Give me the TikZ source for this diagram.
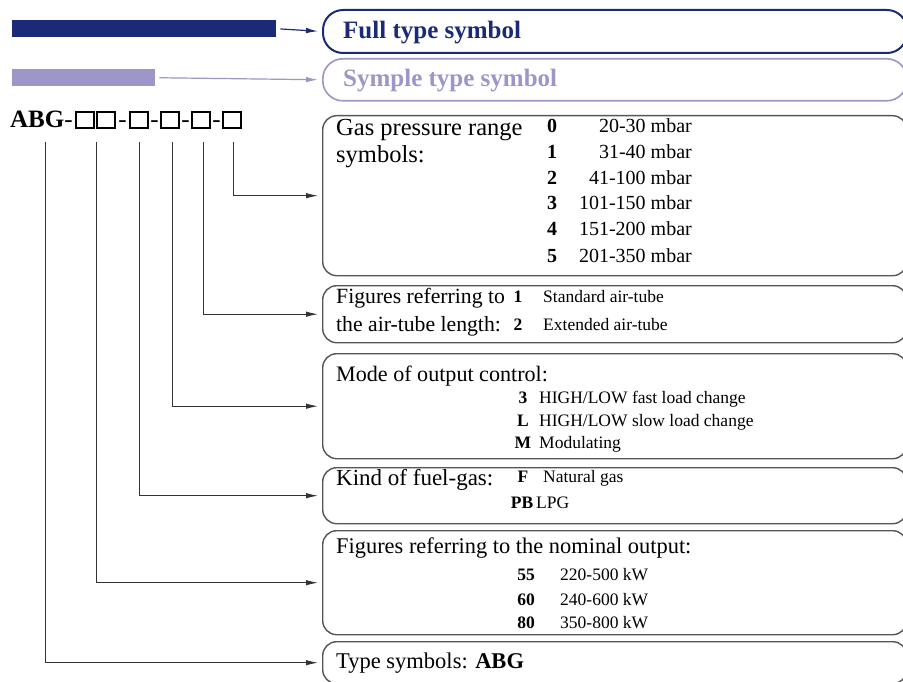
\documentclass[tikz,border=0pt]{standalone}
\usepackage{fontspec}
\setmainfont{Liberation Serif}
\usetikzlibrary{arrows.meta}
\definecolor{navy}{HTML}{1B2A78}
\definecolor{lav}{HTML}{9D96C8}
\definecolor{edge}{HTML}{555555}
\definecolor{wire}{HTML}{333333}
\begin{document}
\begin{tikzpicture}[x=1pt,y=-1pt,
  box/.style={draw=edge, line width=1.4pt, rounded corners=14pt, anchor=north west, minimum width=584pt, inner sep=0pt},
  conn/.style={draw=wire, line width=1pt, -{Latex[length=12pt,width=5.5pt]}, shorten >=4pt},
  big/.style={font=\fontsize{#1}{26}\selectfont, anchor=base west, inner sep=0pt},
  big/.default=22.5,
  val/.style={font=\fontsize{17.5}{20}\selectfont, anchor=base west, inner sep=0pt},
  key/.style={font=\fontsize{17.5}{20}\selectfont\bfseries, anchor=base, inner sep=0pt},
  gv/.style={font=\fontsize{20}{22}\selectfont, anchor=base east, inner sep=0pt},
  gk/.style={font=\fontsize{20}{22}\selectfont\bfseries, anchor=base, inner sep=0pt},
  sq/.style={draw=black, line width=1.3pt},
  dsh/.style={font=\fontsize{25}{28}\selectfont, anchor=base, inner sep=0pt}]
\useasboundingbox (0,0) rectangle (903,682);
\fill[white] (0,0) rectangle (903,682);

% legend
\node[fill=navy, minimum width=264pt, minimum height=17pt, inner sep=0pt, anchor=north west] (fullbar) at (12,20) {};
\node[draw=navy, line width=2pt, rounded corners=20pt, anchor=north west, minimum width=584pt, minimum height=43pt, inner sep=0pt] (fullbox) at (322,9) {};
\node[font=\fontsize{25}{28}\selectfont\bfseries, text=navy, anchor=base west, inner sep=0pt] (fulltxt) at (343,39) {Full type symbol};
\draw[draw=navy, line width=1.2pt, -{Latex[length=12pt,width=5.5pt]}, shorten <=4pt, shorten >=4pt] (fullbar.east) -- (fullbox.west);

\node[fill=lav, minimum width=143pt, minimum height=17pt, inner sep=0pt, anchor=north west] (symbar) at (12,69) {};
\node[draw=lav, line width=1.6pt, rounded corners=20pt, anchor=north west, minimum width=584pt, minimum height=42pt, inner sep=0pt] (symbox) at (322,58) {};
\node[font=\fontsize{25}{28}\selectfont\bfseries, text=lav, anchor=base west, inner sep=0pt] (symtxt) at (343,87) {Symple type symbol};
\draw[draw=lav, line width=1.2pt, -{Latex[length=12pt,width=5.5pt]}, shorten <=4pt, shorten >=4pt] (symbar.east) -- (symbox.west);

% code line
\node[font=\fontsize{25}{28}\selectfont, anchor=base west, inner sep=0pt] (abg) at (10,128) {\textbf{ABG}-};
\draw[sq] (76,112) rectangle (94,128);
\draw[sq] (97,112) rectangle (115,128);
\draw[sq] (130,112) rectangle (148,128);
\draw[sq] (161,112) rectangle (179,128);
\draw[sq] (192,112) rectangle (210,128);
\draw[sq] (223,112) rectangle (241,128);
\node[dsh] (d1) at (122.5,128) {-};
\node[dsh] (d2) at (154.5,128) {-};
\node[dsh] (d3) at (185.5,128) {-};
\node[dsh] (d4) at (216.5,128) {-};

\coordinate (v1) at (45,142);
\coordinate (v2) at (96,142);
\coordinate (v3) at (139,142);
\coordinate (v4) at (172,142);
\coordinate (v5) at (203,142);
\coordinate (v6) at (233,142);

% boxes
\node[box, minimum height=160pt] (gas) at (322,115) {};
\node[box, minimum height=57pt] (air) at (322,285) {};
\node[box, minimum height=105pt] (mode) at (322,353) {};
\node[box, minimum height=56pt] (fuel) at (322,467) {};
\node[box, minimum height=104pt] (nom) at (322,530) {};
\node[box, minimum height=42pt] (type) at (322,641) {};

% connectors
\draw[conn] (v6) |- (gas.west);
\draw[conn] (v5) |- (air.west);
\draw[conn] (v4) |- (mode.west);
\draw[conn] (v3) |- (fuel.west);
\draw[conn] (v2) |- (nom.west);
\draw[conn] (v1) |- (type.west);

% gas box
\node[big=24.5] (g1) at (336,136) {Gas pressure range};
\node[big=24.5] (g2) at (336,163) {symbols:};
\foreach \k/\v/\y [count=\i] in {0/20-30 mbar/133,1/31-40 mbar/159,2/41-100 mbar/185,3/101-150 mbar/210,4/151-200 mbar/236,5/201-350 mbar/262}{
  \node[gk] (gk\i) at (552,\y) {\k};
  \node[gv] (gv\i) at (692,\y) {\v};
}

% air box
\node[big=21.7] (a1) at (336,303) {Figures referring to};
\node[big=21.7] (a2) at (336,331) {the air-tube length:};
\node[key] (ak1) at (518,302) {1};
\node[val] (av1) at (543,302) {Standard air-tube};
\node[key] (ak2) at (518,330) {2};
\node[val] (av2) at (543,330) {Extended air-tube};

% mode box
\node[big=22.1] (m1) at (336,381) {Mode of output control:};
\node[key] (mk1) at (523,403) {3};
\node[val] (mv1) at (539,403) {HIGH/LOW fast load change};
\node[key] (mk2) at (523,426) {L};
\node[val] (mv2) at (539,426) {HIGH/LOW slow load change};
\node[key] (mk3) at (523,448) {M};
\node[val] (mv3) at (539,448) {Modulating};

% fuel box
\node[big=23] (f1) at (336,485) {Kind of fuel-gas:};
\node[key] (fk1) at (523,482) {F};
\node[val] (fv1) at (543,482) {Natural gas};
\node[key] (fk2) at (522,508) {PB};
\node[val] (fv2) at (536,508) {LPG};

% nominal box
\node[big=22.4] (n1) at (336,553) {Figures referring to the nominal output:};
\node[key] (nk1) at (526,580) {55};
\node[val] (nv1) at (560,580) {220-500 kW};
\node[key] (nk2) at (526,605) {60};
\node[val] (nv2) at (560,605) {240-600 kW};
\node[key] (nk3) at (526,628) {80};
\node[val] (nv3) at (560,628) {350-800 kW};

% type box
\node[big=22.5] (t1) at (336,668) {Type symbols: \textbf{ABG}};
\end{tikzpicture}
\end{document}
